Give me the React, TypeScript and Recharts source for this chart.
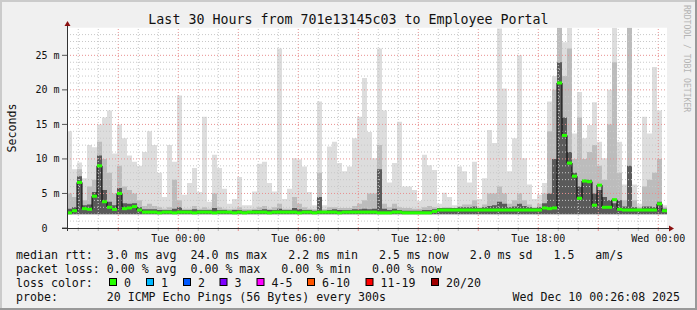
import { Bar, CartesianGrid, ComposedChart, Line, ReferenceLine, XAxis, YAxis } from "recharts";

// one slot = 15 minutes, from Mon 18:30 to Wed 00:15 (values in ms)
const MEDIAN_MS = [
  2.2, 2.5, 6.6, 2.8, 2.7, 4.6, 9.0, 3.8, 3.0, 2.7,
  5.0, 2.8, 2.9, 3.1, 2.6, 2.3, 2.3, 2.3, 2.2, 2.3,
  2.3, 2.2, 2.3, 2.3, 2.3, 2.2, 2.3, 2.3, 2.3, 2.2,
  2.3, 2.3, 2.3, 2.2, 2.3, 2.2, 2.3, 2.3, 2.3, 2.3,
  2.2, 2.3, 2.3, 2.3, 2.3, 2.3, 2.2, 2.3, 2.3, 2.2,
  2.3, 2.3, 2.3, 2.3, 2.2, 2.3, 2.3, 2.3, 2.3, 2.3,
  2.3, 2.3, 2.2, 2.2, 2.2, 2.3, 2.3, 2.2, 2.2, 2.2,
  2.2, 2.2, 2.2, 2.4, 2.6, 2.6, 2.6, 2.6, 2.6, 2.6,
  2.6, 2.6, 2.6, 2.6, 2.6, 2.6, 2.6, 2.6, 2.6, 2.6,
  2.6, 2.6, 2.6, 2.6, 2.6, 2.9, 2.8, 2.9, 21.0, 13.4,
  9.4, 7.5, 4.3, 6.8, 6.7, 3.3, 6.2, 3.0, 3.0, 4.1,
  2.7, 2.6, 2.6, 2.6, 2.6, 2.6, 2.6, 2.6, 3.5, 2.5
];

const SMOKE_MAX_MS = [
  14, 8.5, 9.5, 7.2, 12, 11.7, 15, 16, 17, 10.8,
  15, 13, 10.5, 9.6, 9, 11, 14, 12, 8, 4.5,
  12, 9.6, 19.2, 4.8, 6.5, 8.7, 5.2, 16.1, 3.8, 10.6,
  8.7, 5.7, 3.5, 4.2, 7.4, 3.3, 3.3, 5.3, 9.3, 9.6,
  6.5, 5.3, 26.0, 4.2, 5.7, 10.1, 9.9, 8.9, 5.2, 3.3,
  18.3, 3.3, 11.8, 12.5, 9.4, 8.2, 8.9, 13.0, 16.1, 21.7,
  13.9, 10.1, 26.0, 17.0, 6.6, 9.4, 15.4, 6.0, 6.0, 5.5,
  3.9, 10.6, 9.1, 8.4, 3.5, 5.1, 4.5, 3.3, 8.9, 8.2,
  6.6, 9.6, 4.2, 7.2, 14.2, 12.3, 28.9, 20.2, 8.2, 13.0,
  25.0, 10.1, 6.3, 4.2, 4.8, 6.5, 18.3, 22, 29, 26.9,
  29, 13.7, 19.7, 13.0, 14.9, 18.2, 12.5, 10.1, 20.0, 29,
  12.5, 6.3, 29, 6.3, 3.5, 16.1, 13.7, 23.3, 17.0, 3.3
];

const SMOKE_MID_MS = [
  5, 4.5, 8.5, 4, 6, 7, 12.5, 10, 8, 5,
  9, 6, 5.5, 5, 4, 3.2, 3.5, 3.2, 3, 2.8,
  3, 7, 4, 2.8, 2.8, 3.2, 2.8, 3, 2.8, 5,
  3, 2.8, 2.7, 2.8, 3, 2.7, 2.7, 2.8, 3, 3.2,
  2.8, 3, 3.5, 2.8, 2.8, 4.5, 3.5, 3, 2.8, 2.7,
  8, 2.7, 3, 3, 2.9, 2.9, 2.9, 3.2, 3.5, 4,
  5, 5, 12, 3.5, 3, 3.5, 3, 2.9, 2.9, 2.8,
  2.8, 3, 3.2, 3, 2.9, 3, 3, 2.9, 3.2, 3.4,
  3.4, 4, 3, 3.4, 5, 5, 6, 5, 3.5, 4,
  5, 4, 3.4, 3, 3.5, 5, 14, 20, 29, 22,
  26, 10, 16, 10, 11, 12, 9, 7, 15, 24,
  8, 4, 29, 4, 3, 6, 7, 8, 10, 3
];

const SMOKE_CORE_MS = [
  2.8, 3.0, 7.5, 3.3, 3.4, 5.2, 10.5, 5.5, 3.8, 3.3,
  5.8, 3.6, 3.5, 3.6, 3.0, 2.7, 2.7, 2.7, 2.6, 2.6,
  2.6, 2.8, 3.0, 2.6, 2.6, 2.7, 2.6, 2.6, 2.6, 2.9,
  2.6, 2.6, 2.5, 2.6, 2.6, 2.5, 2.5, 2.6, 2.6, 2.7,
  2.6, 2.6, 2.8, 2.6, 2.6, 2.9, 2.7, 2.6, 2.6, 2.5,
  4.5, 2.5, 2.6, 2.7, 2.6, 2.6, 2.6, 2.7, 2.7, 2.8,
  2.7, 2.8, 8.5, 2.8, 2.6, 2.8, 2.6, 2.5, 2.5, 2.5,
  2.5, 2.6, 2.6, 2.7, 2.9, 2.9, 2.9, 2.9, 3.0, 3.0,
  3.0, 3.1, 2.9, 3.0, 3.2, 3.3, 3.8, 3.5, 3.0, 3.1,
  3.5, 3.2, 3.0, 2.9, 3.0, 3.6, 5, 10, 24, 16,
  11, 8, 6, 7, 7, 5, 5.5, 4.5, 4, 3.6,
  4, 3.1, 9, 3.0, 2.8, 3.1, 3.1, 3.0, 3.8, 2.8
];

const SMOKE_FLOOR_MS = 2.0;

// hours relative to Tue 00:00; first slot starts Mon 18:30, each slot is 15 min
const SLOT_START_H = -5.5;
const SLOT_HOURS = 0.25;
const TIME_DOMAIN = [-5.564, 24.436];
const HOUR_TICKS = [
  -5, -4, -3, -2, -1, 0, 1, 2, 3, 4, 5, 6, 7, 8, 9, 10, 11, 12,
  13, 14, 15, 16, 17, 18, 19, 20, 21, 22, 23, 24
];
const HOUR_LABELS: Record<number, string> = {
  0: "Tue 00:00",
  6: "Tue 06:00",
  12: "Tue 12:00",
  18: "Tue 18:00",
  24: "Wed 00:00"
};

const RTT_DOMAIN = [0, 29];
const RTT_TICKS = [0, 5, 10, 15, 20, 25];
const RTT_LABELS: Record<number, string> = {
  0: "0  ",
  5: "5 m",
  10: "10 m",
  15: "15 m",
  20: "20 m",
  25: "25 m"
};
const RTT_MINOR = [1, 2, 3, 4, 6, 7, 8, 9, 11, 12, 13, 14, 16, 17, 18, 19, 21, 22, 23, 24, 26, 27, 28];

const LOSS_LABELS = ["0", "1", "2", "3", "4-5", "6-10", "11-19", "20/20"];
const LOSS_COLORS = ["#26ff00", "#00b8ff", "#0059ff", "#7e00ff", "#ff00ff", "#ff5500", "#ff0000", "#a00000"];

const TITLE = "Last 30 Hours from 701e13145c03 to Employee Portal";
const LEGEND_RTT = "median rtt:  3.0 ms avg  24.0 ms max   2.2 ms min   2.5 ms now   2.0 ms sd   1.5   am/s";
const LEGEND_LOSS = "packet loss: 0.00 % avg  0.00 % max   0.00 % min   0.00 % now";
const LEGEND_PROBE = "probe:       20 ICMP Echo Pings (56 Bytes) every 300s";
const STAMP = "Wed Dec 10 00:26:08 2025";

const FONT = "'DejaVu Sans Mono', monospace";
const INK = "#111";
const MINOR_GRID = "#c8c8c8";
const MAJOR_GRID = "#e89090";

const keepSpaces = (s: string) => s.replace(/ /g, "\u00a0");

const rows = MEDIAN_MS.map((median, i) => ({
  slot: i,
  t: SLOT_START_H + SLOT_HOURS * i + SLOT_HOURS / 2,
  median,
  light: [SMOKE_FLOOR_MS, SMOKE_MAX_MS[i]],
  mid: [SMOKE_FLOOR_MS, SMOKE_MID_MS[i]],
  core: [SMOKE_FLOOR_MS, SMOKE_CORE_MS[i]]
}));

function TimeTick({ x, y, payload }: any) {
  const h = payload.value;
  const label = HOUR_LABELS[h];
  return (
    <g>
      <line x1={x} x2={x} y1={y} y2={y + 3} stroke={h % 3 === 0 ? MAJOR_GRID : "#bbbbbb"} />
      {label && (
        <text x={x} y={y + 13.5} textAnchor="middle" fontSize={10} fontFamily={FONT} fill={INK}>
          {label}
        </text>
      )}
    </g>
  );
}

function RttTick({ x, y, payload }: any) {
  return (
    <g>
      <line x1={x - 5} x2={x} y1={y} y2={y} stroke="#555" />
      <text x={x - 7.5} y={y + 3.5} textAnchor="end" fontSize={10} fontFamily={FONT} fill={INK}>
        {keepSpaces(RTT_LABELS[payload.value])}
      </text>
    </g>
  );
}

function MedianDot({ cx, cy, index }: any) {
  if (cx == null || cy == null) return <g key={`m${index}`} />;
  return <rect key={`m${index}`} x={cx - 2.5} y={cy - 1.5} width={5} height={3} fill="#26ff00" />;
}

const BOX_X = [109, 146, 183, 219.5, 256.5, 307, 365.5, 431];

function Overlay() {
  return (
    <svg
      width={697}
      height={310}
      style={{ position: "absolute", left: 0, top: 0, pointerEvents: "none" }}
    >
      <rect x={0} y={0} width={697} height={2} fill="#cbcbcb" />
      <rect x={0} y={0} width={2} height={310} fill="#cbcbcb" />
      <rect x={0} y={308} width={697} height={2} fill="#999" />
      <rect x={695} y={0} width={2} height={310} fill="#999" />

      <text x={348.5} y={23.5} textAnchor="middle" fontSize={13.3} fontFamily={FONT} fill={INK}>
        {TITLE}
      </text>
      <text transform="translate(15.5,128) rotate(-90)" textAnchor="middle" fontSize={11.6} fontFamily={FONT} fill={INK}>
        Seconds
      </text>
      <text transform="translate(684,5) rotate(90)" fontSize={8.1} fontFamily={FONT} fill="#b4b4b4">
        {keepSpaces("RRDTOOL / TOBI OETIKER")}
      </text>

      <line x1={67.5} x2={67.5} y1={24} y2={231} stroke="#333" />
      <polygon points="64.5,26 70.5,26 67.5,21" fill="#8b1010" />
      <line x1={62} x2={670} y1={228.5} y2={228.5} stroke="#333" />
      <polygon points="669,225.5 669,231.5 674,228.5" fill="#8b1010" />

      <g fontSize={11.6} fontFamily={FONT} fill={INK}>
        <text x={16} y={258.5}>{keepSpaces(LEGEND_RTT)}</text>
        <text x={16} y={272.5}>{keepSpaces(LEGEND_LOSS)}</text>
        <text x={16} y={286.5}>{keepSpaces("loss color:")}</text>
        {LOSS_LABELS.map((label, i) => (
          <g key={label}>
            <rect x={BOX_X[i] + 0.5} y={278.5} width={7} height={7} fill={LOSS_COLORS[i]} stroke="#000" />
            <text x={BOX_X[i] + 15} y={286.5}>{label}</text>
          </g>
        ))}
        <text x={16} y={300.5}>{keepSpaces(LEGEND_PROBE)}</text>
        <text x={512.5} y={300.5}>{keepSpaces(STAMP)}</text>
      </g>
    </svg>
  );
}

export default function App() {
  return (
    <div
      style={{
        position: "absolute",
        left: 0,
        top: 0,
        width: 697,
        height: 310,
        background: "#f0f0f0",
        overflow: "hidden"
      }}
    >
      <ComposedChart
        width={697}
        height={310}
        data={rows}
        margin={{ top: 27.7, right: 30, bottom: 62, left: 7 }}
        barCategoryGap={0}
        barGap={0}
      >
        <XAxis
          xAxisId="time"
          dataKey="t"
          type="number"
          domain={TIME_DOMAIN}
          ticks={HOUR_TICKS}
          interval={0}
          allowDataOverflow
          axisLine={false}
          tickLine={false}
          tickSize={0}
          tickMargin={0}
          height={20}
          tick={TimeTick}
        />
        <XAxis xAxisId="c1" dataKey="slot" type="category" hide height={0} />
        <XAxis xAxisId="c2" dataKey="slot" type="category" hide height={0} />
        <XAxis xAxisId="c3" dataKey="slot" type="category" hide height={0} />
        <YAxis
          type="number"
          domain={RTT_DOMAIN}
          ticks={RTT_TICKS}
          interval={0}
          allowDataOverflow
          axisLine={false}
          tickLine={false}
          tickSize={0}
          tickMargin={0}
          width={60}
          tick={RttTick}
        />
        <CartesianGrid xAxisId="time" horizontal={false} vertical={false} fill="#ffffff" />

        <Bar xAxisId="c1" dataKey="light" fill="#dddddd" isAnimationActive={false} />
        <Bar xAxisId="c2" dataKey="mid" fill="#bcbcbc" isAnimationActive={false} />
        <Bar xAxisId="c3" dataKey="core" fill="#5a5a5a" isAnimationActive={false} />

        {HOUR_TICKS.map((h) => (
          <ReferenceLine
            key={`h${h}`}
            xAxisId="time"
            x={h}
            stroke={h % 3 === 0 ? MAJOR_GRID : MINOR_GRID}
            strokeDasharray="1 2"
          />
        ))}
        {RTT_MINOR.map((v) => (
          <ReferenceLine key={`r${v}`} xAxisId="time" y={v} stroke={MINOR_GRID} strokeDasharray="1 2" />
        ))}
        {RTT_TICKS.filter((v) => v > 0).map((v) => (
          <ReferenceLine key={`R${v}`} xAxisId="time" y={v} stroke={MAJOR_GRID} strokeDasharray="1 2" />
        ))}

        <Line
          xAxisId="c1"
          dataKey="median"
          type="step"
          stroke="#000"
          strokeWidth={1}
          dot={MedianDot}
          activeDot={false}
          isAnimationActive={false}
        />
      </ComposedChart>
      <Overlay />
    </div>
  );
}
